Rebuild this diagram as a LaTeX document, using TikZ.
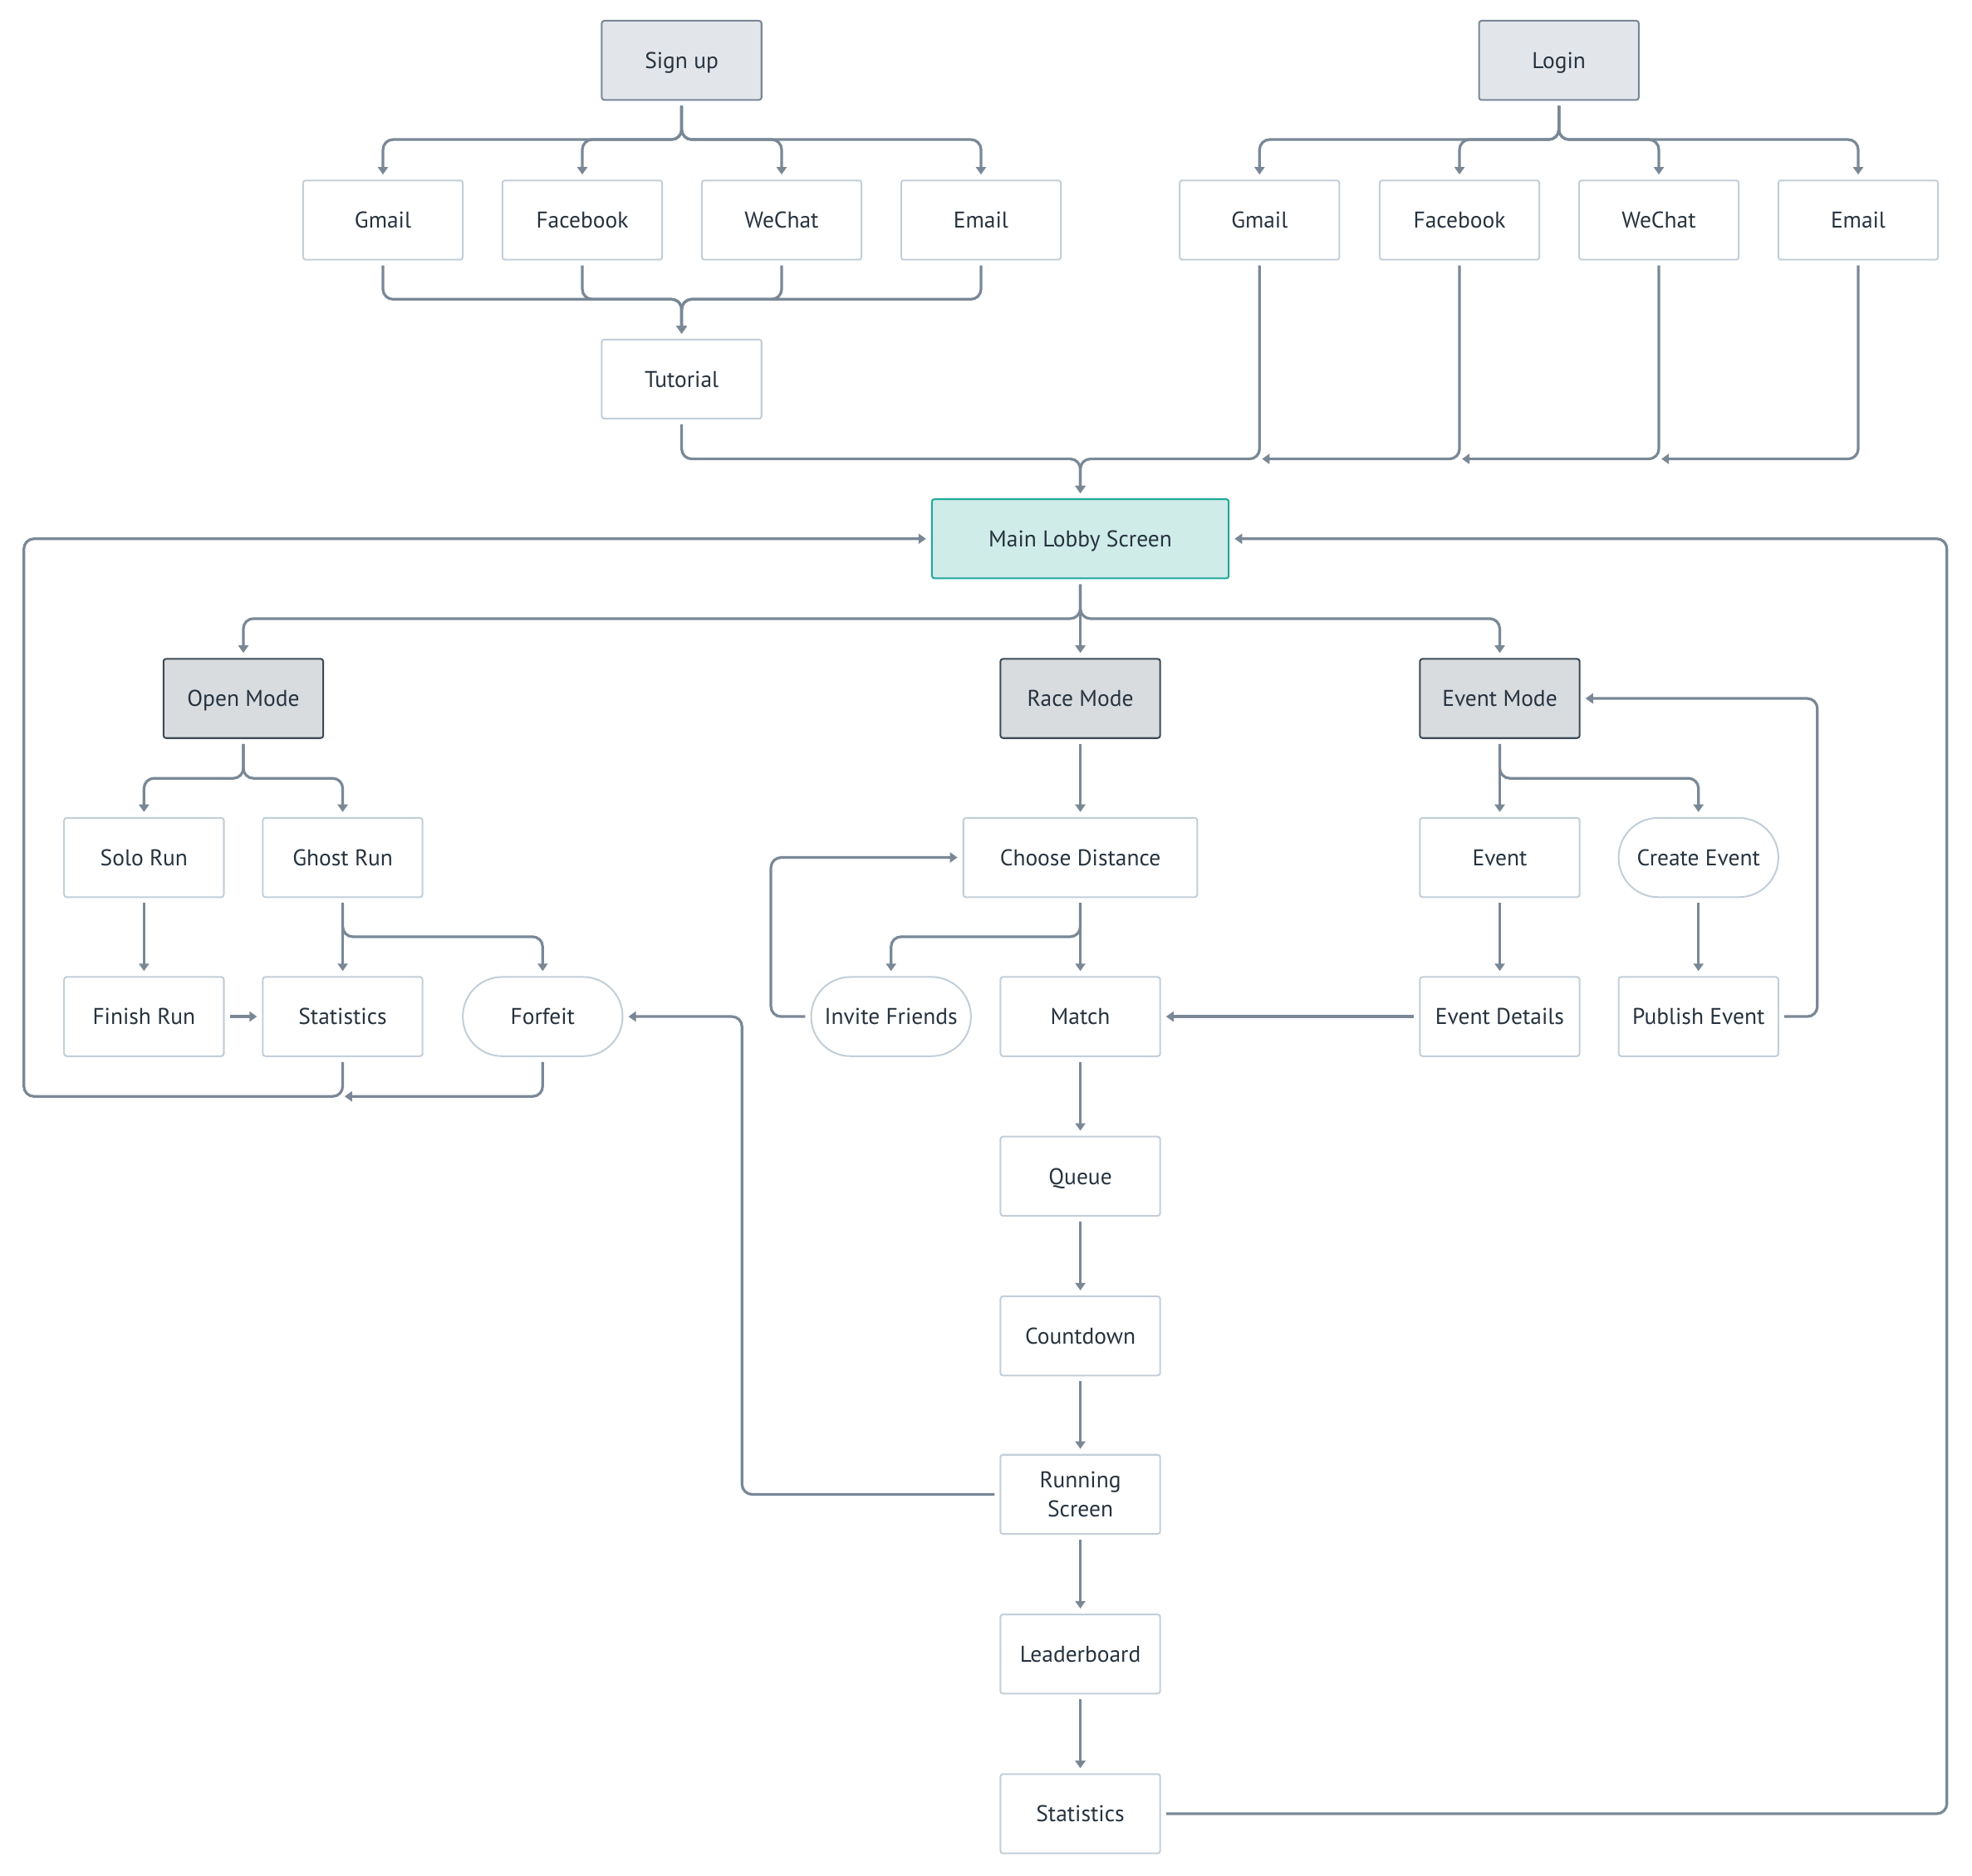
\documentclass[tikz,border=0pt]{standalone}
\usepackage{fontspec}
\setmainfont{PT Sans}
\usetikzlibrary{arrows.meta}
\definecolor{conn}{RGB}{122,136,150}
\definecolor{lightb}{RGB}{195,206,216}
\definecolor{txt}{RGB}{38,50,62}
\definecolor{topfill}{RGB}{226,230,234}
\definecolor{topdraw}{RGB}{122,135,150}
\definecolor{modefill}{RGB}{216,220,223}
\definecolor{modedraw}{RGB}{62,74,85}
\definecolor{mainfill}{RGB}{207,236,233}
\definecolor{maindraw}{RGB}{31,168,154}
\begin{document}
\begin{tikzpicture}[x=0.75pt,y=-0.75pt,
  box/.style={draw=lightb, line width=1pt, rounded corners=1.5pt, minimum width=95.25pt, minimum height=47.25pt, inner sep=0pt, text=txt, font=\fontsize{13.6}{17.2}\selectfont, align=center, text height=9.8pt, text depth=0pt},
  topbox/.style={box, draw=topdraw, fill=topfill},
  modebox/.style={box, draw=modedraw, fill=modefill},
  mainbox/.style={box, draw=maindraw, fill=mainfill, minimum width=177pt},
  pill/.style={box, rounded corners=23.5pt},
  conn/.style={draw=conn, line width=1.6pt, rounded corners=6pt, shorten <=3pt, shorten >=3pt, -{Triangle[length=4.5pt,width=6pt]}},
  line/.style={draw=conn, line width=1.6pt, rounded corners=6pt, shorten <=3pt}]
\useasboundingbox (0,0) rectangle (1568,1491.4);

% top rows
\node[topbox] (signup) at (542,48) {Sign up};
\node[topbox] (login) at (1239.5,48) {Login};
\node[box] (gmailA) at (304.5,175) {Gmail};
\node[box] (fbA) at (463,175) {Facebook};
\node[box] (wcA) at (621.5,175) {WeChat};
\node[box] (emA) at (780,175) {Email};
\node[box] (gmailB) at (1001.5,175) {Gmail};
\node[box] (fbB) at (1160.5,175) {Facebook};
\node[box] (wcB) at (1319,175) {WeChat};
\node[box] (emB) at (1477.5,175) {Email};
\node[box] (tutorial) at (542,301.5) {Tutorial};
\node[mainbox] (main) at (859,428.5) {Main Lobby Screen};

% modes
\node[modebox] (openm) at (193.5,555.5) {Open Mode};
\node[modebox] (racem) at (859,555.5) {Race Mode};
\node[modebox] (eventm) at (1192.5,555.5) {Event Mode};

\node[box] (solo) at (114.5,682) {Solo Run};
\node[box] (ghost) at (272.5,682) {Ghost Run};
\node[box, minimum width=139.5pt] (choose) at (859,682) {Choose Distance};
\node[box] (event) at (1192.5,682) {Event};
\node[pill] (create) at (1350.5,682) {Create Event};

\node[box] (finish) at (114.5,808.5) {Finish Run};
\node[box] (statA) at (272.5,808.5) {Statistics};
\node[pill] (forfeit) at (431.5,808.5) {Forfeit};
\node[pill] (invite) at (708.5,808.5) {Invite Friends};
\node[box] (match) at (859,808.5) {Match};
\node[box] (details) at (1192.5,808.5) {Event Details};
\node[box] (publish) at (1350.5,808.5) {Publish Event};

\node[box] (queue) at (859,935.5) {Queue};
\node[box] (count) at (859,1062.5) {Countdown};
\node[box, text height={}, text depth={}] (running) at (859,1188.5) {Running\\Screen};
\node[box] (leader) at (859,1315.5) {Leaderboard};
\node[box] (statB) at (859,1442.5) {Statistics};

% helper coordinates
\coordinate (jA) at (542,111);
\coordinate (jB) at (1239.5,111);
\coordinate (jT) at (542,238);
\coordinate (jM) at (859,365);
\coordinate (tG) at (1003.5,365);
\coordinate (tF) at (1162.5,365);
\coordinate (tW) at (1321,365);
\coordinate (jL) at (859,492);
\coordinate (jO) at (193.5,619);
\coordinate (jE) at (1192.5,619);
\coordinate (jGh) at (272.5,745);
\coordinate (jC) at (859,745);
\coordinate (lbot) at (19,872);
\coordinate (tS) at (274,872);
\coordinate (rloop) at (1548,428.5);
\coordinate (invx) at (613,682);
\coordinate (runx) at (590,808.5);
\coordinate (pubx) at (1445,555.5);

% sign up branches
\foreach \t in {gmailA,fbA,wcA,emA}{
  \draw[conn] (signup.south) -- (jA) -| (\t.north);
  \draw[conn] (\t.south) |- (jT) -- (tutorial.north);
}
\foreach \t in {gmailB,fbB,wcB,emB}{
  \draw[conn] (login.south) -- (jB) -| (\t.north);
}
\draw[conn] (tutorial.south) |- (jM) -- (main.north);
\draw[conn] (gmailB.south) |- (jM) -- (main.north);
\draw[line, -{Triangle[length=4.5pt,width=6pt]}] (fbB.south) |- (tG);
\draw[line, -{Triangle[length=4.5pt,width=6pt]}] (wcB.south) |- (tF);
\draw[line, -{Triangle[length=4.5pt,width=6pt]}] (emB.south) |- (tW);

% lobby to modes
\draw[conn] (main.south) -- (jL) -| (openm.north);
\draw[conn] (main.south) -- (racem.north);
\draw[conn] (main.south) -- (jL) -| (eventm.north);

% open mode
\draw[conn] (openm.south) -- (jO) -| (solo.north);
\draw[conn] (openm.south) -- (jO) -| (ghost.north);
\draw[conn] (solo.south) -- (finish.north);
\draw[conn] (ghost.south) -- (statA.north);
\draw[conn] (ghost.south) -- (jGh) -| (forfeit.north);
\draw[conn] (finish.east) -- (statA.west);
\draw[conn] (statA.south) |- (lbot) |- (main.west);
\draw[line, -{Triangle[length=4.5pt,width=6pt]}] (forfeit.south) |- (tS);

% race mode
\draw[conn] (racem.south) -- (choose.north);
\draw[conn] (choose.south) -- (jC) -| (invite.north);
\draw[conn] (choose.south) -- (match.north);
\draw[conn] (invite.west) -| (invx) -- (choose.west);
\draw[conn] (match.south) -- (queue.north);
\draw[conn] (queue.south) -- (count.north);
\draw[conn] (count.south) -- (running.north);
\draw[conn] (running.south) -- (leader.north);
\draw[conn] (leader.south) -- (statB.north);
\draw[conn] (running.west) -| (runx) -- (forfeit.east);
\draw[conn] (statB.east) -| (rloop) -- (main.east);

% event mode
\draw[conn] (eventm.south) -- (event.north);
\draw[conn] (eventm.south) -- (jE) -| (create.north);
\draw[conn] (event.south) -- (details.north);
\draw[conn] (create.south) -- (publish.north);
\draw[conn] (details.west) -- (match.east);
\draw[conn] (publish.east) -| (pubx) -- (eventm.east);
\end{tikzpicture}
\end{document}
